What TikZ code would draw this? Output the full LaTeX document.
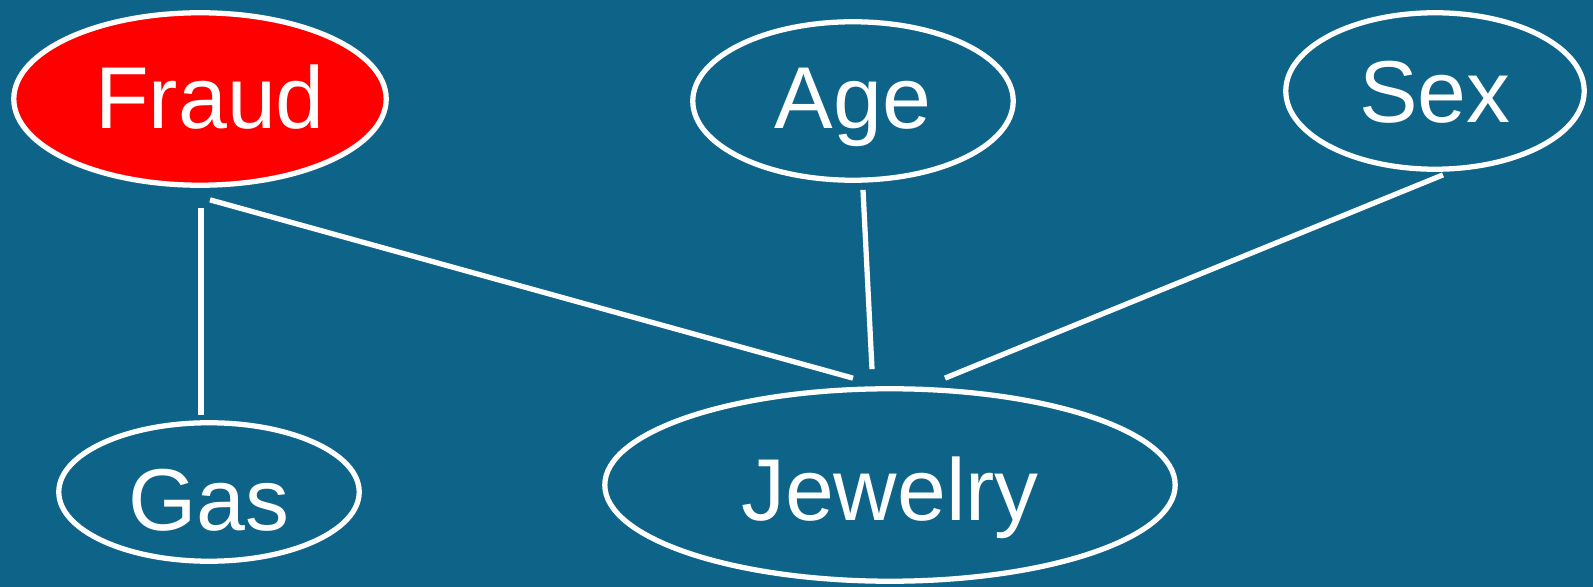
\documentclass[tikz,border=0pt]{standalone}
\usepackage{fontspec}
\setmainfont{Liberation Sans}
\usepackage{tikz}
\usetikzlibrary{shapes.geometric,calc}
\usepackage{xcolor}
\definecolor{bgblue}{RGB}{13,99,136}

\begin{document}
\begin{tikzpicture}[x=0.02cm,y=-0.02cm,
  var/.style={ellipse,draw=white,line width=3pt,inner sep=0pt,text=white,text height=35.8pt,text depth=0pt,font=\fontsize{50}{60}\selectfont},
  edge/.style={draw=white,line width=3pt}]
\fill[bgblue] (0,0) rectangle (1593,587);
\useasboundingbox (0,0) rectangle (1593,587);
\node[var,fill=red,minimum width=7.45cm,minimum height=3.45cm,text height=33.5pt] (fraud) at (200,99) {\hspace*{0.4cm}Fraud};
\node[var,minimum width=6.41cm,minimum height=3.17cm,text height=31.3pt] (age) at (853,101) {Age};
\node[var,minimum width=5.97cm,minimum height=3.13cm] (sex) at (1435,91) {Sex};
\node[var,minimum width=6.01cm,minimum height=2.77cm,text height=44pt] (gas) at (209,492) {Gas};
\node[var,minimum width=11.41cm,minimum height=3.85cm,text height=40.3pt] (jewelry) at (890,485) {Jewelry};
\draw[edge] ($(fraud.south)+(1,20)$) -- ($(gas.north)+(-8,-5)$);
\draw[edge] ($(fraud.south)+(10,12)$) -- ($(jewelry.north)+(-37,-8)$);
\draw[edge] ($(age.south)+(10,7)$) -- ($(jewelry.north)+(-18,-17)$);
\draw[edge] ($(sex.south)+(8,3)$) -- ($(jewelry.north)+(55,-8)$);
\end{tikzpicture}
\end{document}
